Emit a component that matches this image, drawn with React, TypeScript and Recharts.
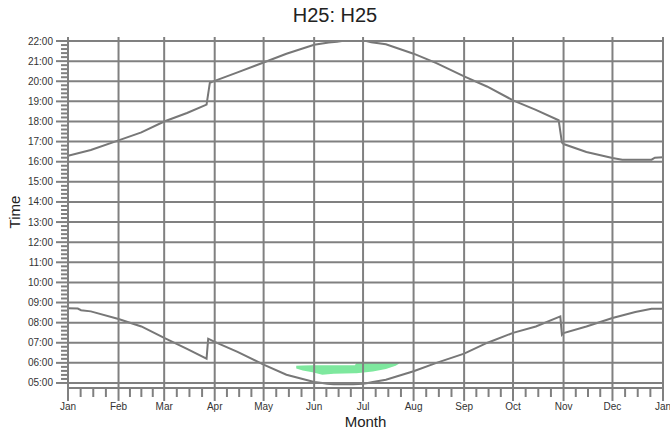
import { ComposedChart, Line, Area, XAxis, YAxis, ReferenceLine } from 'recharts'

const monthStarts = [0, 31, 59, 90, 120, 151, 181, 212, 243, 273, 304, 334, 365]
const monthLabels = ['Jan', 'Feb', 'Mar', 'Apr', 'May', 'Jun', 'Jul', 'Aug', 'Sep', 'Oct', 'Nov', 'Dec', 'Jan']
const hours = [5, 6, 7, 8, 9, 10, 11, 12, 13, 14, 15, 16, 17, 18, 19, 20, 21, 22]

// sunset, decimal hours, by day of year
const sunsetDays = [0, 14, 31, 45, 59, 73, 85, 87, 90, 104, 120, 134, 151, 160, 165, 168, 183, 186, 195, 212, 226, 243, 257, 273, 287, 301, 303, 304, 318, 334, 340, 358, 360, 365]
const sunsetTimes = [16.3, 16.58, 17.06, 17.46, 18.0, 18.42, 18.84, 19.92, 20.02, 20.44, 20.93, 21.37, 21.81, 21.93, 21.96, 22.0, 22.0, 21.94, 21.84, 21.37, 20.9, 20.24, 19.74, 19.05, 18.58, 18.06, 16.95, 16.88, 16.48, 16.18, 16.1, 16.1, 16.2, 16.22]

// sunrise
const sunriseDays = [0, 6, 8, 14, 31, 45, 59, 73, 85, 86, 90, 104, 120, 134, 151, 156, 159, 163, 175, 181, 184, 187, 195, 203, 212, 226, 243, 257, 273, 287, 302, 303, 304, 318, 334, 348, 358, 365]
const sunriseTimes = [8.71, 8.7, 8.62, 8.56, 8.18, 7.81, 7.24, 6.7, 6.21, 7.2, 7.04, 6.55, 5.91, 5.41, 5.05, 5.0, 4.96, 4.94, 4.94, 4.96, 5.0, 5.05, 5.16, 5.36, 5.58, 6.0, 6.46, 6.99, 7.49, 7.81, 8.31, 7.4, 7.48, 7.81, 8.23, 8.53, 8.69, 8.69]

// shadow period (green)
const shadowDays = [140, 144, 150, 156, 163, 176, 177, 187, 195, 201, 203]
const shadowLow = [5.72, 5.62, 5.53, 5.41, 5.46, 5.48, 5.48, 5.57, 5.7, 5.85, 5.95]
const shadowHigh = [5.86, 5.87, 5.88, 5.88, 5.88, 5.88, 6.02, 6.02, 6.02, 6.02, 6.01]

const sunset = sunsetDays.map((day, i) => ({ day, t: sunsetTimes[i] }))
const sunrise = sunriseDays.map((day, i) => ({ day, t: sunriseTimes[i] }))
const shadow = shadowDays.map((day, i) => ({ day, range: [shadowLow[i], shadowHigh[i]] }))

const minorMonthTicks = monthStarts.slice(0, -1).flatMap((s, i) => {
  const e = monthStarts[i + 1]
  return [1, 2, 3].map((k) => s + ((e - s) * k) / 4)
})
const xTicks = [...monthStarts, ...minorMonthTicks].sort((a, b) => a - b)
const yTicks = hours.flatMap((h) => (h === 22 ? [h] : [h, h + 0.2, h + 0.4, h + 0.6, h + 0.8]))

const GRID = '#808080'
const FONT = '"Liberation Sans", Arial, sans-serif'

function MonthTick({ x, y, payload }: any) {
  const idx = monthStarts.indexOf(payload.value)
  const major = idx >= 0
  return (
    <g>
      <line x1={x} x2={x} y1={y} y2={y + (major ? 13 : 9)} stroke={GRID} strokeWidth={2} />
      {major && (
        <text x={x} y={y + 22} textAnchor="middle" fontSize={10} fontFamily={FONT} fill="#333">
          {monthLabels[idx]}
        </text>
      )}
    </g>
  )
}

function HourTick({ x, y, payload }: any) {
  const major = Number.isInteger(payload.value)
  const label = String(payload.value).padStart(2, '0') + ':00'
  return (
    <g>
      <line x1={x - (major ? 12 : 7)} x2={x} y1={y} y2={y} stroke={GRID} strokeWidth={2} />
      {major && (
        <text x={x - 15} y={y} dy="0.35em" textAnchor="end" fontSize={10} fontFamily={FONT} fill="#333">
          {label}
        </text>
      )}
    </g>
  )
}

export default function App() {
  return (
    <div style={{ position: 'absolute', left: 0, top: 0, width: 670, height: 432, background: '#fff', fontFamily: FONT }}>
      <div style={{ position: 'absolute', left: 0, width: 670, top: 5, lineHeight: '20px', textAlign: 'center', fontSize: 20, color: '#222' }}>
        H25: H25
      </div>
      <div style={{ position: 'absolute', left: 68, width: 595, top: 416, lineHeight: '11px', textAlign: 'center', fontSize: 15, color: '#222' }}>
        Month
      </div>
      <div style={{
        position: 'absolute', left: 14, top: 212, fontSize: 15, lineHeight: '11px', color: '#222',
        transform: 'translate(-50%, -50%) rotate(-90deg)', whiteSpace: 'nowrap',
      }}>
        Time
      </div>
      <div style={{ position: 'absolute', left: 0, top: 0 }}>
        <ComposedChart width={670} height={432} margin={{ top: 37, right: 7, bottom: 0, left: 0 }}>
          <XAxis
            type="number"
            dataKey="day"
            domain={[0, 365]}
            ticks={xTicks}
            interval={0}
            height={44}
            tickSize={0}
            tickMargin={0}
            tickLine={false}
            tick={<MonthTick />}
            axisLine={{ stroke: GRID, strokeWidth: 2 }}
            allowDataOverflow
          />
          <YAxis
            type="number"
            domain={[4.75, 22.2]}
            ticks={yTicks}
            interval={0}
            width={68}
            tickSize={0}
            tickMargin={0}
            tickLine={false}
            tick={<HourTick />}
            axisLine={{ stroke: GRID, strokeWidth: 2 }}
            allowDataOverflow
          />
          <Area
            data={shadow}
            dataKey="range"
            type="linear"
            stroke="none"
            fill="#7ee89e"
            fillOpacity={1}
            isAnimationActive={false}
          />
          <Line data={sunset} dataKey="t" type="linear" stroke="#777" strokeWidth={2} dot={false} isAnimationActive={false} />
          <Line data={sunrise} dataKey="t" type="linear" stroke="#777" strokeWidth={2} dot={false} isAnimationActive={false} />
          {hours.map((h) => (
            <ReferenceLine key={'h' + h} y={h} stroke={GRID} strokeWidth={2} />
          ))}
          {monthStarts.slice(1).map((d) => (
            <ReferenceLine key={'m' + d} x={d} stroke={GRID} strokeWidth={2} />
          ))}
        </ComposedChart>
      </div>
    </div>
  )
}
